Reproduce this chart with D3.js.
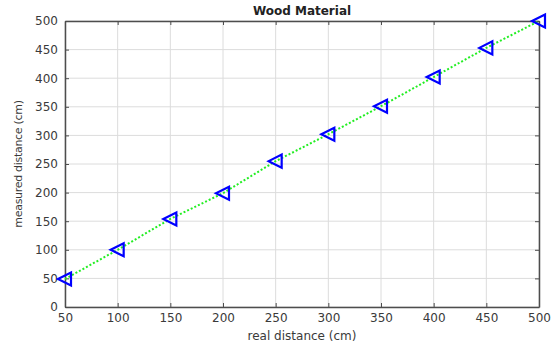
<!DOCTYPE html>
<html>
<head>
<meta charset="utf-8">
<script src="https://cdn.jsdelivr.net/npm/d3@7"></script>
<style>
  body { margin: 0; background: #fff; }
  text { font-family: "DejaVu Sans", Verdana, sans-serif; }
</style>
</head>
<body>
<div id="main"></div>
<script>
// real distance (cm) vs measured distance (cm)
var realDist = [50, 100, 150, 200, 250, 300, 350, 400, 450, 500];
var measuredDist = [49, 100, 154, 199, 255, 302, 351, 402, 453, 500];
var xTicks = [50, 100, 150, 200, 250, 300, 350, 400, 450, 500];
var yTicks = [0, 50, 100, 150, 200, 250, 300, 350, 400, 450, 500];

var svg = d3.select("#main").append("svg")
    .attr("width", 554)
    .attr("height", 347),
    margin = {top: 21, right: 15, bottom: 40, left: 65},
    width = 554 - margin.left - margin.right,
    height = 347 - margin.top - margin.bottom,
    g = svg.append("g").attr("transform", "translate(" + margin.left + "," + margin.top + ")");

var x = d3.scaleLinear().domain([50, 500]).range([0, width]);
var y = d3.scaleLinear().domain([0, 500]).range([height, 0]);

// grid
g.append("g").selectAll("line").data(xTicks).enter().append("line")
    .attr("x1", function(d) { return x(d); }).attr("x2", function(d) { return x(d); })
    .attr("y1", 0).attr("y2", height)
    .attr("stroke", "#dcdcdc").attr("stroke-width", 1);
g.append("g").selectAll("line").data(yTicks).enter().append("line")
    .attr("y1", function(d) { return y(d); }).attr("y2", function(d) { return y(d); })
    .attr("x1", 0).attr("x2", width)
    .attr("stroke", "#dcdcdc").attr("stroke-width", 1);

// axes (box with inward ticks)
var axisColor = "#4d4d4d";
function styleAxis(sel) {
    sel.select(".domain").attr("stroke", axisColor).attr("stroke-width", 1.5);
    sel.selectAll(".tick line").attr("stroke", axisColor);
    sel.selectAll(".tick text").attr("fill", "#3a3a3a")
        .style("font-family", "'DejaVu Sans', Verdana, sans-serif")
        .style("font-size", "12px");
}
g.append("g")
    .attr("transform", "translate(0," + height + ")")
    .call(d3.axisBottom(x).tickValues(xTicks).tickSizeInner(-4).tickSizeOuter(0).tickPadding(6))
    .call(styleAxis);
g.append("g")
    .call(d3.axisLeft(y).tickValues(yTicks).tickSizeInner(-4).tickSizeOuter(0).tickPadding(7))
    .call(styleAxis);
g.append("g")
    .call(d3.axisTop(x).tickValues(xTicks).tickSizeInner(-4).tickSizeOuter(0).tickFormat(""))
    .call(styleAxis);
g.append("g")
    .attr("transform", "translate(" + width + ",0)")
    .call(d3.axisRight(y).tickValues(yTicks).tickSizeInner(-4).tickSizeOuter(0).tickFormat(""))
    .call(styleAxis);

// line
var line = d3.line()
    .x(function(d, i) { return x(realDist[i]); })
    .y(function(d) { return y(d); });

g.append("path")
    .datum(measuredDist)
    .attr("fill", "none")
    .attr("stroke", "#22ee22")
    .attr("stroke-width", 2)
    .attr("stroke-dasharray", "2,2")
    .attr("d", line);

// left-pointing triangle markers
g.append("g").selectAll("path").data(measuredDist).enter().append("path")
    .attr("transform", function(d, i) { return "translate(" + x(realDist[i]) + "," + y(d) + ")"; })
    .attr("d", "M-7,0L6,-6.5L6,6.5Z")
    .attr("fill", "none")
    .attr("stroke", "#0000ff")
    .attr("stroke-width", 2.2)
    .attr("stroke-linejoin", "miter");

// title and labels
svg.append("text")
    .attr("x", margin.left + width / 2)
    .attr("y", 15)
    .attr("text-anchor", "middle")
    .style("font-size", "12px")
    .style("font-weight", "bold")
    .attr("fill", "#222")
    .text("Wood Material");

svg.append("text")
    .attr("x", margin.left + width / 2)
    .attr("y", 340)
    .attr("text-anchor", "middle")
    .style("font-size", "12px")
    .attr("fill", "#3a3a3a")
    .text("real distance (cm)");

svg.append("text")
    .attr("transform", "translate(22," + (margin.top + height / 2) + ") rotate(-90)")
    .attr("text-anchor", "middle")
    .style("font-size", "11px")
    .style("letter-spacing", "-0.3px")
    .attr("fill", "#3a3a3a")
    .text("measured distance (cm)");
</script>
</body>
</html>
